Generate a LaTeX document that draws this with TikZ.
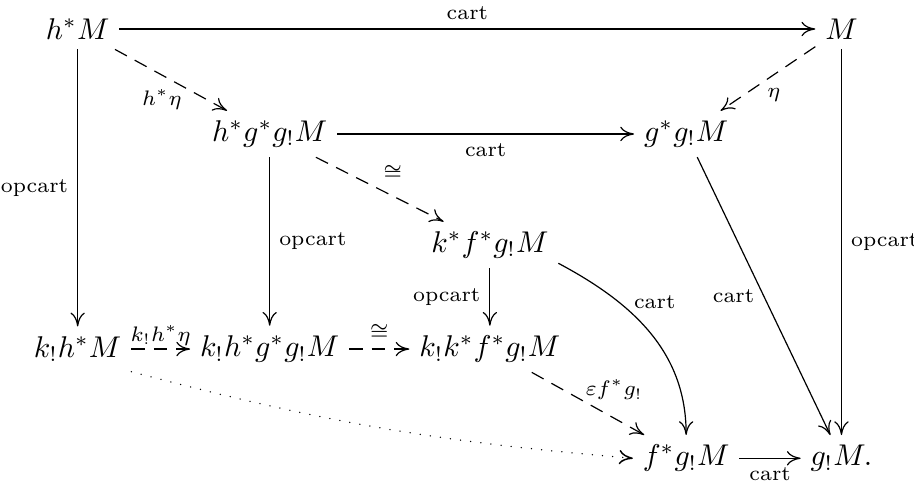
\documentclass[tikz,border=0pt]{standalone}
\usepackage{tikz}
\usetikzlibrary{arrows.meta,positioning}
\tikzset{
  entry/.style={inner sep=3.33pt, outer sep=0pt},
  lbl/.style={font=\scriptsize, inner sep=3pt},
  arrow/.style={-{Computer Modern Rightarrow[length=4.6pt,width=4.8pt]}, line width=0.4pt},
  dashedarrow/.style={arrow, dash pattern=on 4.5pt off 3pt},
  dottedarrow/.style={arrow, line cap=round, line width=0.5pt, dash pattern=on 0pt off 3.4pt}
}

\begin{document}
\begin{tikzpicture}[x=1cm,y=1cm]
  \useasboundingbox (0,0) rectangle (10.71,-5.67);
  % entries
  \node[entry] (hM) at (0.91,-0.34) {$h^*M$};
  \node[entry] (M) at (9.86,-0.34) {$M$};
  \node[entry] (hggM) at (3.16,-1.57) {$h^*g^*g_!M$};
  \node[entry] (ggM) at (8.04,-1.57) {$g^*g_!M$};
  \node[entry] (kfgM) at (5.74,-2.87) {$k^*f^*g_!M$};
  \node[entry] (khM) at (0.91,-4.09) {$k_!h^*M$};
  \node[entry] (khggM) at (3.16,-4.09) {$k_!h^*g^*g_!M$};
  \node[entry] (kkfgM) at (5.74,-4.09) {$k_!k^*f^*g_!M$};
  \node[entry] (fgM) at (8.04,-5.37) {$f^*g_!M$};
  \node[entry] (gM) at (9.86,-5.37) {$g_!M.$};
  % top square
  \draw[arrow] (hM) -- node[lbl, above] {cart} (M);
  \draw[dashedarrow] (hM) -- node[lbl, below, xshift=-3pt] {$h^*\eta$} (hggM);
  \draw[dashedarrow] (M) -- node[lbl, below, xshift=2pt] {$\eta$} (ggM);
  \draw[arrow] (hggM) -- node[lbl, below] {cart} (ggM);
  \draw[dashedarrow] (hggM) -- node[lbl, above right, xshift=-2pt] {$\cong$} (kfgM);
  % verticals
  \draw[arrow] (hM) -- node[lbl, left] {opcart} (khM);
  \draw[arrow] (M) -- node[lbl, right] {opcart} (gM);
  \draw[arrow] (hggM) -- node[lbl, right] {opcart} (khggM);
  \draw[arrow] (kfgM) -- node[lbl, left] {opcart} (kkfgM);
  \draw[arrow] (ggM) -- node[lbl, left] {cart} (gM);
  \draw[arrow] (kfgM.-15) to[out=-28, in=90] node[lbl, pos=0.3, right, xshift=2pt] {cart} (fgM.north);
  % bottom rows
  \draw[dashedarrow] (khM) -- node[lbl, above, inner sep=1pt] {$k_!h^*\eta$} (khggM);
  \draw[dashedarrow] (khggM) -- node[lbl, above] {$\cong$} (kkfgM);
  \draw[dashedarrow] (kkfgM) -- node[lbl, above right, xshift=-4pt, yshift=-2pt] {$\varepsilon f^*g_!$} (fgM);
  \draw[dottedarrow] (khM.south east) to[bend right=5] (fgM.west);
  \draw[arrow] (fgM) -- node[lbl, below] {cart} (gM);
\end{tikzpicture}
\end{document}
